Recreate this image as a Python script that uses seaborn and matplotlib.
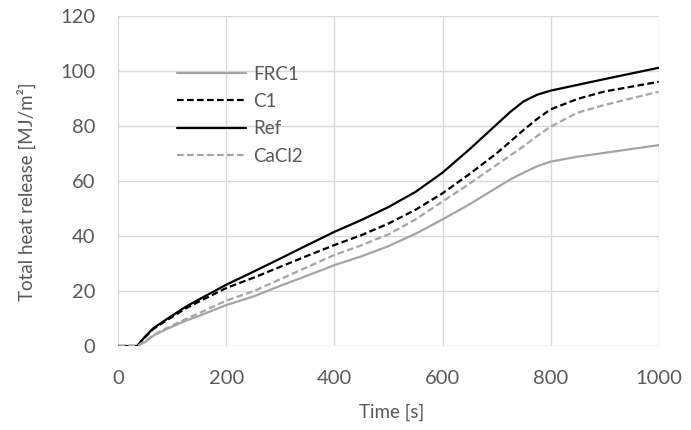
import matplotlib
matplotlib.use("Agg")
import matplotlib.pyplot as plt
import pandas as pd
import seaborn as sns

# Data
time = [0, 35, 50, 65, 90, 125, 150, 200, 250, 300, 350, 400, 450, 500, 550, 600,
        650, 700, 725, 750, 775, 800, 850, 900, 1000]
frc1 = [0, 0, 1.5, 3.8, 6.2, 9.2, 11.0, 14.9, 18.0, 21.9, 25.6, 29.4, 32.6, 36.3, 40.8, 46.0,
        51.5, 57.5, 60.5, 63.0, 65.3, 67.0, 68.8, 70.2, 73.0]
c1 = [0, 0, 3.3, 6.2, 9.4, 13.7, 16.2, 21.1, 24.8, 28.8, 32.8, 36.7, 40.3, 44.5, 49.5, 55.5,
      62.5, 70.0, 74.2, 78.5, 82.5, 86.0, 89.8, 92.5, 96.0]
ref = [0, 0, 3.5, 6.5, 9.8, 14.3, 17.0, 22.3, 27.0, 31.8, 36.7, 41.5, 45.8, 50.5, 56.0, 63.0,
       71.5, 80.5, 85.0, 88.9, 91.3, 92.8, 94.9, 97.0, 101.1]
cacl2 = [0, 0, 1.8, 4.0, 6.6, 9.8, 12.0, 16.5, 19.9, 24.3, 28.7, 33.1, 36.6, 40.6, 46.0, 52.5,
         59.0, 65.8, 69.2, 72.6, 76.3, 79.7, 84.8, 87.6, 92.4]

series = {"FRC1": frc1, "C1": c1, "Ref": ref, "CaCl2": cacl2}
styles = {
    "FRC1": dict(color="#A5A5A5", linestyle="-"),
    "C1": dict(color="black", linestyle=(0, (3, 1.5))),
    "Ref": dict(color="black", linestyle="-"),
    "CaCl2": dict(color="#A5A5A5", linestyle=(0, (3, 1.5))),
}
text_col = "#595959"

sns.set_style("white")
plt.rcParams["font.family"] = ["Lato", "DejaVu Sans"]

fig = plt.figure(figsize=(6.91, 4.30), dpi=100)
ax = fig.add_axes([0.1712, 0.1953, 0.782, 0.768])

for name, vals in series.items():
    df = pd.DataFrame({"time": time, "thr": vals})
    sns.lineplot(data=df, x="time", y="thr", ax=ax, label=name, linewidth=1.6, **styles[name])

ax.set_xlim(0, 1000)
ax.set_ylim(0, 120)
ax.set_xticks(range(0, 1001, 200))
ax.set_yticks(range(0, 121, 20))
ax.grid(True, color="#D9D9D9", linewidth=1)
ax.set_axisbelow(True)
for s in ax.spines.values():
    s.set_visible(False)
ax.tick_params(axis="both", length=0, labelsize=14.5, labelcolor=text_col)
ax.tick_params(axis="x", pad=17)
ax.tick_params(axis="y", pad=16.5)

ax.set_xlabel("Time [s]", fontsize=13.5, color=text_col, va="center")
ax.xaxis.set_label_coords(0.506, -0.2)
ax.set_ylabel("Total heat release [MJ/m²]", fontsize=13.5, color=text_col, va="center")
ax.yaxis.set_label_coords(-0.171, 0.466)

leg = ax.legend(loc="upper left", bbox_to_anchor=(0.108, 0.849), frameon=False,
                borderpad=0, borderaxespad=0, handlelength=3.7, handletextpad=0.4,
                labelspacing=0.55, fontsize=13.5)
for t in leg.get_texts():
    t.set_color(text_col)

fig.savefig("out.png", dpi=100)
